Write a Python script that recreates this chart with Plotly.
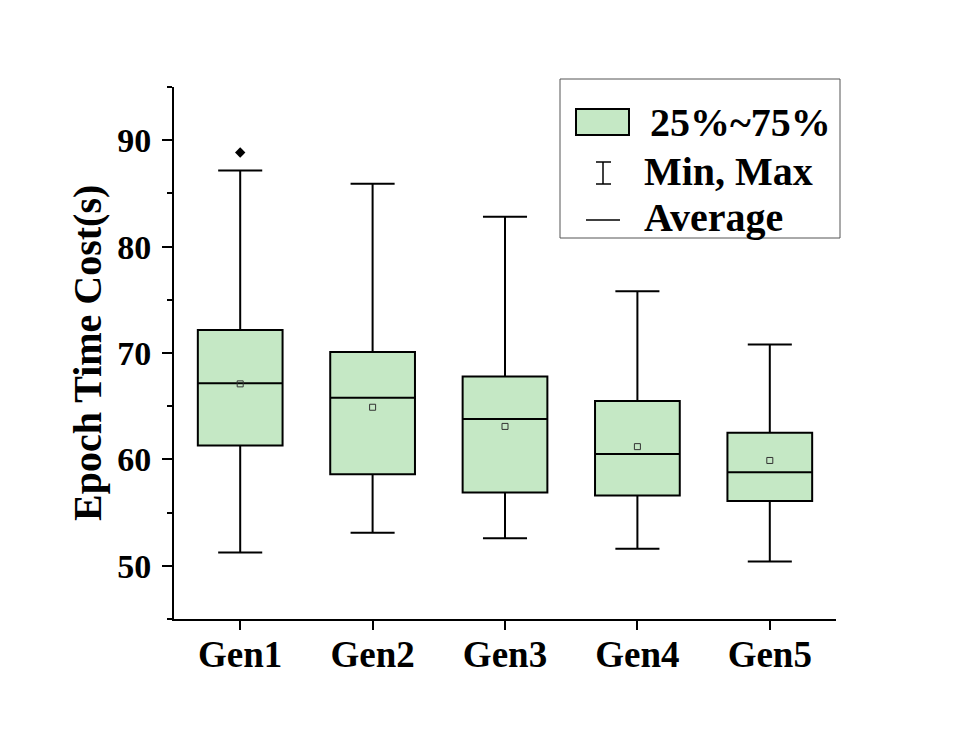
import plotly.graph_objects as go

categories = ["Gen1", "Gen2", "Gen3", "Gen4", "Gen5"]
q1 = [61.3, 58.6, 56.9, 56.6, 56.1]
median = [67.15, 65.8, 63.8, 60.5, 58.8]
q3 = [72.15, 70.1, 67.8, 65.5, 62.5]
lower = [51.25, 53.1, 52.6, 51.6, 50.4]
upper = [87.15, 85.9, 82.8, 75.8, 70.8]
mean = [67.1, 64.9, 63.1, 61.2, 59.9]
outlier_x = ["Gen1"]
outlier_y = [88.85]

OFF = 8  # default page body margin
W, H = 970 - OFF, 743 - OFF
L, R, T, B = 174, 836, 87, 619  # target plot area in window pixels
FONT = "Liberation Serif"
FILL = "rgb(197,232,197)"


def px(x):
    return (x - L) / (R - L)


def py(y):
    return (B - y) / (B - T)


fig = go.Figure()
fig.add_trace(go.Box(
    x=categories, q1=q1, median=median, q3=q3,
    lowerfence=lower, upperfence=upper,
    width=0.64, whiskerwidth=0.52,
    fillcolor=FILL, line=dict(color="black", width=2),
    boxpoints=False, showlegend=False, hoverinfo="skip",
))
fig.add_trace(go.Scatter(
    x=categories, y=mean, mode="markers",
    marker=dict(symbol="square-open", size=6, color="#333", line=dict(width=1)),
    showlegend=False,
))
fig.add_trace(go.Scatter(
    x=outlier_x, y=outlier_y, mode="markers",
    marker=dict(symbol="diamond", size=8, color="black"),
    showlegend=False,
))

shapes = []
annotations = []
shapes.append(dict(type="rect", xref="paper", yref="paper",
                   x0=px(560), x1=px(840), y0=py(238), y1=py(79),
                   line=dict(color="#555", width=1), fillcolor="white", layer="below"))
shapes.append(dict(type="rect", xref="paper", yref="paper",
                   x0=px(576), x1=px(629), y0=py(135), y1=py(109),
                   line=dict(color="black", width=2), fillcolor=FILL))
shapes.append(dict(type="line", xref="paper", yref="paper",
                   x0=px(603), x1=px(603), y0=py(184), y1=py(162),
                   line=dict(color="black", width=1.5)))
for yy in (162, 184):
    shapes.append(dict(type="line", xref="paper", yref="paper",
                       x0=px(596), x1=px(611), y0=py(yy), y1=py(yy),
                       line=dict(color="black", width=1.5)))
shapes.append(dict(type="line", xref="paper", yref="paper",
                   x0=px(586), x1=px(620), y0=py(220), y1=py(220),
                   line=dict(color="black", width=1.5)))

leg_font = dict(family=FONT, size=40, color="black", weight="bold")
for text, xx, yy in [("25%~75%", 648, 122), ("Min, Max", 642, 171), ("Average", 642, 217)]:
    annotations.append(dict(text=text, xref="paper", yref="paper",
                            x=px(xx), y=py(yy), xanchor="left", yanchor="middle",
                            showarrow=False, font=leg_font))

annotations.append(dict(text="Epoch Time Cost(s)", xref="paper", yref="paper",
                        x=px(87), y=py(353), xanchor="center", yanchor="middle",
                        textangle=-90, showarrow=False,
                        font=dict(family=FONT, size=40, color="black", weight="bold")))

fig.update_layout(
    width=W, height=H,
    margin=dict(l=L - OFF, r=W - (R - OFF), t=T - OFF, b=H - (B - OFF), pad=0),
    paper_bgcolor="white", plot_bgcolor="white",
    shapes=shapes, annotations=annotations,
    xaxis=dict(range=[-0.5, 4.5], showline=True, linecolor="black", linewidth=2,
               ticks="outside", ticklen=9, tickwidth=2, tickcolor="black",
               showgrid=False, zeroline=False, ticklabelstandoff=-7,
               tickfont=dict(family=FONT, size=37, color="black", weight="bold")),
    yaxis=dict(range=[45, 95], dtick=10, tick0=50, showline=True, linecolor="black", linewidth=2,
               ticks="outside", ticklen=10, tickwidth=2, tickcolor="black",
               showgrid=False, zeroline=False, ticklabelstandoff=4,
               minor=dict(dtick=5, ticks="outside", ticklen=5, tickwidth=2, tickcolor="black", showgrid=False),
               tickfont=dict(family=FONT, size=34, color="black", weight="bold")),
)

fig.write_html("out.html")
